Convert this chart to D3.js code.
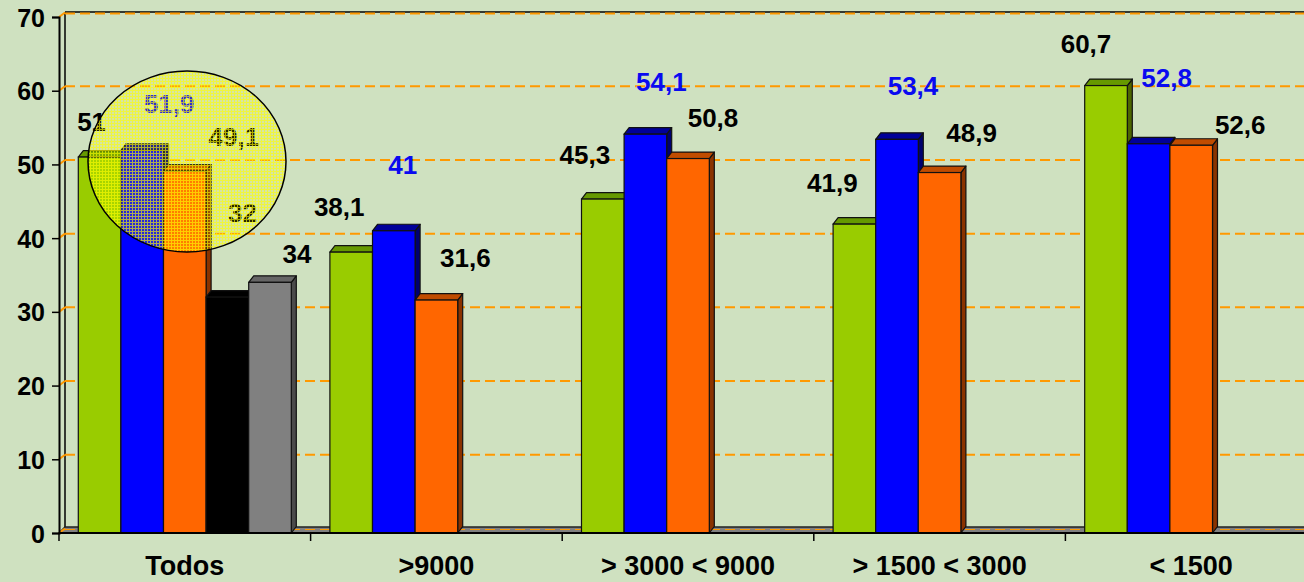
<!DOCTYPE html>
<html>
<head>
<meta charset="utf-8">
<script src="https://cdn.jsdelivr.net/npm/d3@7/dist/d3.min.js"></script>
<style>
  html, body { margin: 0; padding: 0; background: #cfe1c0; }
  svg { display: block; }
  text { font-family: "Liberation Sans", Arial, sans-serif; font-weight: bold; }
</style>
</head>
<body>
<svg id="chart" width="1304" height="582"></svg>
<script>
// ---------- data ----------
const categories = ["Todos", ">9000", "> 3000 < 9000", "> 1500 < 3000", "< 1500"];
const seriesNames = ["Serie 1", "Serie 2", "Serie 3", "Serie 4", "Serie 5"];
const serie1 = [51, 38.1, 45.3, 41.9, 60.7];
const serie2 = [51.9, 41, 54.1, 53.4, 52.8];
const serie3 = [49.1, 31.6, 50.8, 48.9, 52.6];
const serie4 = [32, null, null, null, null];
const serie5 = [34, null, null, null, null];
const yTicks = [0, 10, 20, 30, 40, 50, 60, 70];
const yMax = 70;

// ---------- styles ----------
const front = ["#99cc00", "#0000ff", "#ff6600", "#000000", "#808080"];
const topC  = ["#669900", "#000099", "#c04c00", "#000000", "#666666"];
const sideC = ["#4d6600", "#000070", "#8a3300", "#000000", "#4a4a4a"];
const labelColor = ["#000000", "#0a0af0", "#000000", "#000000", "#000000"];
// label nudges (dx, dy) relative to bar top centre, per category / series
const labelNudge = [
  [[-8,-35],[27,-46],[49,-34],[15,-84],[27,-28]],
  [[-12,-45],[9,-66],[29,-42]],
  [[-18,-44],[16,-52],[25,-41]],
  [[-22,-41],[16,-53],[32,-40]],
  [[-20,-42],[18,-66],[49,-20]]
];

const values = [serie1, serie2, serie3, serie4, serie5];
const rows = categories.map((c, i) => ({
  cat: c, i,
  vals: seriesNames.map((s, j) => ({ s, j, v: values[j][i] })).filter(d => d.v != null)
}));

const svg = d3.select("#chart");
const axisX = 59, axisY0 = 533, axisTop = 17;
const wdx = 6, wdy = 4.5;     // back wall depth
const bdx = 5, bdy = 6.5;     // bar depth

const x0 = d3.scaleBand().domain(categories).range([axisX, axisX + 251.6 * 5]).padding(0);
const x1 = d3.scaleBand().domain(seriesNames).range([0, x0.bandwidth()]).paddingInner(0).paddingOuter(0.453);
const y = d3.scaleLinear().domain([0, yMax]).range([axisY0, axisTop]);

// background
svg.append("rect").attr("width", 1304).attr("height", 582).attr("fill", "#cfe1c0");

// defs: hatch pattern for highlight ellipse
const defs = svg.append("defs");
const pat = defs.append("pattern").attr("id", "hatch").attr("patternUnits", "userSpaceOnUse")
  .attr("width", 3).attr("height", 3);
pat.append("rect").attr("width", 3).attr("height", 3).attr("fill", "#ffff00").attr("opacity", 0.15);
pat.append("path").attr("d", "M0,0.5H3M0.5,0V3").attr("stroke", "#ffff00").attr("stroke-width", 1).attr("opacity", 0.62);

// back wall: top line and left inner line
const right = 1320;
svg.append("line").attr("x1", axisX + wdx).attr("x2", right)
  .attr("y1", y(yMax) - wdy - 0.5).attr("y2", y(yMax) - wdy - 0.5).attr("stroke", "#000").attr("stroke-width", 1.5);
svg.append("line").attr("x1", axisX + wdx).attr("x2", axisX + wdx)
  .attr("y1", y(yMax) - wdy - 0.5).attr("y2", y(0) - wdy).attr("stroke", "#000").attr("stroke-width", 1.5);

// floor
svg.append("path")
  .attr("d", `M${axisX},${y(0)}L${axisX + wdx},${y(0) - 6}L${right},${y(0) - 6}L${right},${y(0)}Z`)
  .attr("fill", "#808080").attr("stroke", "#222").attr("stroke-width", 1.5);

// gridlines (on back wall)
svg.append("g").selectAll("line").data(yTicks).join("line")
  .attr("x1", axisX + wdx).attr("x2", right)
  .attr("y1", d => y(d) - (d === 0 ? 3.5 : d === yMax ? wdy - 1 : wdy))
  .attr("y2", d => y(d) - (d === 0 ? 3.5 : d === yMax ? wdy - 1 : wdy))
  .attr("stroke", "#ff9900").attr("stroke-width", d => d === 0 ? 1.2 : 2)
  .attr("stroke-dasharray", "10,5");

// orange wall diagonals at ticks
svg.append("g").selectAll("line").data(yTicks).join("line")
  .attr("x1", axisX).attr("y1", d => y(d))
  .attr("x2", axisX + wdx).attr("y2", d => y(d) - wdy)
  .attr("stroke", "#ff9900").attr("stroke-width", 2);

// y axis
const yAxis = d3.axisLeft(y).tickValues(yTicks).tickSize(7).tickPadding(7).tickFormat(d3.format("d"));
const gy = svg.append("g").attr("transform", `translate(${axisX},0)`).call(yAxis);
gy.select(".domain").attr("stroke", "#000").attr("stroke-width", 2);
gy.selectAll(".tick line").attr("stroke", "#000").attr("stroke-width", 1.5);
gy.selectAll(".tick text").attr("font-size", 25).attr("fill", "#000")
  .attr("font-family", "Liberation Sans, Arial, sans-serif").attr("font-weight", "bold").attr("dy", "0.36em");

// bars
const groups = svg.append("g").selectAll("g").data(rows).join("g")
  .attr("transform", d => `translate(${x0(d.cat)},0)`);
const bw = x1.bandwidth();
const bar = groups.selectAll("g.bar").data(d => d.vals).join("g").attr("class", "bar");
bar.append("path") // side
  .attr("d", d => {
    const xr = x1(d.s) + bw, yt = y(d.v), yb = y(0);
    return `M${xr},${yb}L${xr},${yt}L${xr + bdx},${yt - bdy}L${xr + bdx},${yb - bdy}Z`;
  })
  .attr("fill", d => sideC[d.j]).attr("stroke", "#111").attr("stroke-width", 1.2).attr("stroke-linejoin", "round");
bar.append("path") // top
  .attr("d", d => {
    const xl = x1(d.s), yt = y(d.v);
    return `M${xl},${yt}L${xl + bdx},${yt - bdy}L${xl + bw + bdx},${yt - bdy}L${xl + bw},${yt}Z`;
  })
  .attr("fill", d => topC[d.j]).attr("stroke", "#111").attr("stroke-width", 1.2).attr("stroke-linejoin", "round");
bar.append("rect") // front
  .attr("x", d => x1(d.s)).attr("y", d => y(d.v))
  .attr("width", bw).attr("height", d => y(0) - y(d.v))
  .attr("fill", d => front[d.j]).attr("stroke", "#111").attr("stroke-width", 1.2);

// x axis
const gx = svg.append("g").attr("transform", `translate(0,${axisY0})`);
gx.append("line").attr("x1", axisX).attr("x2", right).attr("stroke", "#000").attr("stroke-width", 2);
gx.selectAll("line.tk").data(d3.range(categories.length + 1)).join("line").attr("class", "tk")
  .attr("x1", i => axisX + i * x0.step()).attr("x2", i => axisX + i * x0.step())
  .attr("y1", 0).attr("y2", 8).attr("stroke", "#000").attr("stroke-width", 1.5);
gx.selectAll("text").data(categories).join("text")
  .attr("x", d => x0(d) + x0.bandwidth() / 2).attr("y", 42)
  .attr("text-anchor", "middle").attr("font-size", 27).attr("fill", "#000").text(d => d);

// value labels
const fmt = v => String(v).replace(".", ",");
groups.selectAll("text.val").data(d => d.vals.map(v => ({ ...v, i: d.i }))).join("text").attr("class", "val")
  .attr("x", d => x1(d.s) + bw / 2 + labelNudge[d.i][d.j][0])
  .attr("y", d => y(d.v) + labelNudge[d.i][d.j][1] + 9)
  .attr("text-anchor", "middle").attr("font-size", 26)
  .attr("fill", d => labelColor[d.j]).text(d => fmt(d.v));

// highlight ellipse
svg.append("ellipse").attr("cx", 187).attr("cy", 161.5).attr("rx", 99).attr("ry", 90.5)
  .attr("fill", "url(#hatch)").attr("stroke", "#000").attr("stroke-width", 1.5);
</script>
</body>
</html>
